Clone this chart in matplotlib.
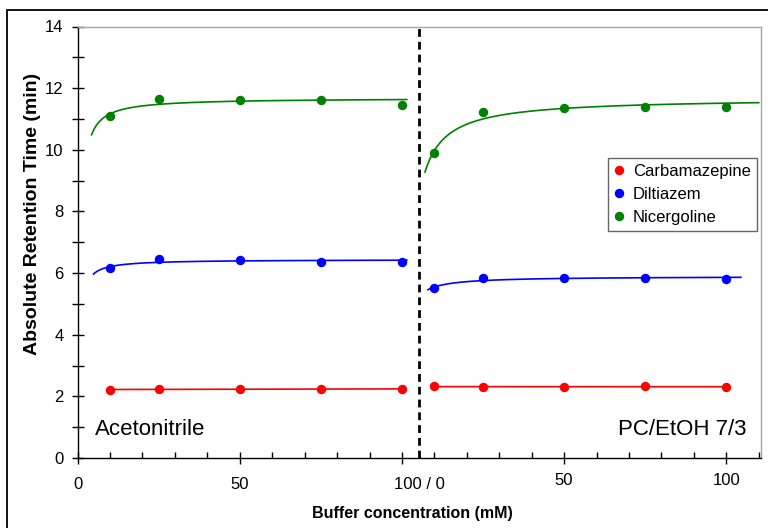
import numpy as np
import matplotlib
matplotlib.use("Agg")
import matplotlib.pyplot as plt
from matplotlib.lines import Line2D
from matplotlib.patches import Rectangle
from matplotlib.transforms import ScaledTranslation

plt.rcParams['font.family'] = ['Liberation Sans', 'DejaVu Sans']

# Buffer concentrations (mM) used in both mobile phases
conc = [10, 25, 50, 75, 100]
# Second mobile phase is drawn after the first on a shared axis
pc_offset = 100

# Absolute retention times (min), acetonitrile mobile phase
acn_carbamazepine = [2.22, 2.23, 2.23, 2.24, 2.24]
acn_diltiazem = [6.17, 6.46, 6.43, 6.36, 6.36]
acn_nicergoline = [11.10, 11.66, 11.62, 11.62, 11.46]

# Absolute retention times (min), PC/EtOH 7/3 mobile phase
pc_carbamazepine = [2.32, 2.31, 2.31, 2.32, 2.31]
pc_diltiazem = [5.52, 5.84, 5.83, 5.84, 5.81]
pc_nicergoline = [9.90, 11.23, 11.36, 11.40, 11.40]

compounds = ["Carbamazepine", "Diltiazem", "Nicergoline"]
colors = ["#ff0000", "#0000ff", "#008000"]

# concentration span over which each fitted trend is drawn
acn_fit_span = [(10, 100), (4.9, 101.5), (4.3, 101.5)]
pc_fit_span = [(10, 100), (8.0, 104.5), (7.1, 110.0)]

xtick_pos = [0, 50, 100, 150, 200]
xtick_labels = ["0", "50", "100 / 0", "50", "100"]


def trend(x, y, span, model):
    x = np.asarray(x, float)
    y = np.asarray(y, float)
    xs = np.linspace(span[0], span[1], 300)
    if model == "linear":
        c = np.polyfit(x, y, 1)
        return xs, np.polyval(c, xs)
    # saturating trend y = a + b / x, least squares
    A = np.column_stack([np.ones_like(x), 1.0 / x])
    (a, b), *_ = np.linalg.lstsq(A, y, rcond=None)
    return xs, a + b / xs


fig = plt.figure(figsize=(7.68, 5.28), dpi=100)
W, H = 768, 528
ax = fig.add_axes([77.6 / W, 1 - 458 / H, (761 - 77.6) / W, (458 - 26.5) / H])

acn_sets = [acn_carbamazepine, acn_diltiazem, acn_nicergoline]
pc_sets = [pc_carbamazepine, pc_diltiazem, pc_nicergoline]
models = ["linear", "sat", "sat"]

for i in range(3):
    # acetonitrile block
    xs, ys = trend(conc, acn_sets[i], acn_fit_span[i], models[i])
    ax.plot(xs, ys, color=colors[i], lw=1.2, zorder=2)
    ax.plot(conc, acn_sets[i], 'o', color=colors[i], ms=6.8, mew=0, zorder=3)
    # PC/EtOH block
    xs, ys = trend(conc, pc_sets[i], pc_fit_span[i], models[i])
    ax.plot(xs + pc_offset, ys, color=colors[i], lw=1.2, zorder=2)
    ax.plot(np.array(conc) + pc_offset, pc_sets[i], 'o', color=colors[i],
            ms=6.8, mew=0, zorder=3)

# separator between the two mobile phases
sep = ax.axvline(105.2, color='black', lw=2.0, zorder=1)
sep.set_dashes([2.8, 1.8])

ax.set_xlim(0, 210.7)
ax.set_ylim(0, 14)
ax.set_yticks(np.arange(0, 15, 2))
ax.set_yticks(np.arange(0, 15, 1), minor=True)
ax.set_xticks(xtick_pos)
ax.set_xticklabels(xtick_labels)
ax.set_xticks(np.arange(0, 211, 10), minor=True)

ax.tick_params(axis='y', which='major', direction='inout', length=8, width=1,
               labelsize=12, pad=6)
ax.tick_params(axis='y', which='minor', direction='inout', length=8, width=1)
ax.tick_params(axis='x', which='major', direction='inout', length=8, width=1,
               labelsize=12, pad=10)
ax.tick_params(axis='x', which='minor', direction='in', length=4, width=1)

for lab in ax.get_xticklabels():
    txt = lab.get_text()
    if txt == "100 / 0":
        lab.set_transform(lab.get_transform() +
                          ScaledTranslation(0.17, 0, fig.dpi_scale_trans))
for lab in ax.get_xticklabels()[3:]:
    lab.set_transform(lab.get_transform() +
                      ScaledTranslation(0, 0.04, fig.dpi_scale_trans))

for side in ['top', 'right']:
    ax.spines[side].set_color('#a6a6a6')
    ax.spines[side].set_linewidth(1)
for side in ['left', 'bottom']:
    ax.spines[side].set_color('black')
    ax.spines[side].set_linewidth(1)

ax.set_xlabel("Buffer concentration (mM)", fontsize=11.5, fontweight='bold')
ax.xaxis.set_label_coords(0.49, -0.112)
ax.set_ylabel("Absolute Retention Time (min)", fontsize=14, fontweight='bold')
ax.yaxis.set_label_coords(-0.053, 0.565)

ax.text(0.0255, 0.053, "Acetonitrile", transform=ax.transAxes, fontsize=16,
        ha='left', va='baseline')
ax.text(0.9795, 0.053, "PC/EtOH 7/3", transform=ax.transAxes, fontsize=16,
        ha='right', va='baseline')

handles = [Line2D([], [], ls='none', marker='o', color=c, ms=6.8, mew=0)
           for c in colors]
leg = ax.legend(handles, compounds, loc='upper left',
                bbox_to_anchor=(0.776, 0.696), borderaxespad=0,
                fontsize=12, frameon=True, fancybox=False,
                handlelength=0.6, handletextpad=0.55, labelspacing=0.5,
                borderpad=0.35)
leg.get_frame().set_edgecolor('#404040')
leg.get_frame().set_linewidth(1)

# outer frame around the chart
fig.patches.append(Rectangle((7 / W, -0.2), 1.2, 1.2 - 10 / H,
                             transform=fig.transFigure, fill=False,
                             edgecolor='black', lw=1.3))

fig.savefig("out.png", dpi=100)
